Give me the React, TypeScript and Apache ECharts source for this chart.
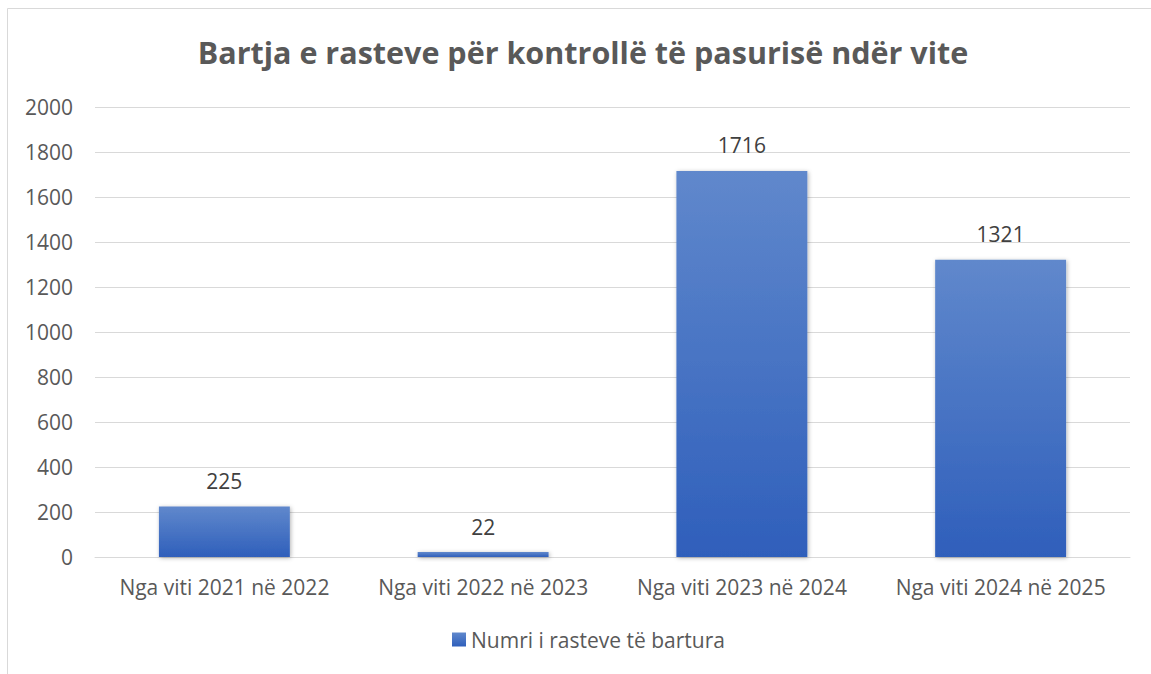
import React, { useEffect, useRef } from "react";
import * as echarts from "echarts";

const categories = [
  "Nga viti 2021 në 2022",
  "Nga viti 2022 në 2023",
  "Nga viti 2023 në 2024",
  "Nga viti 2024 në 2025",
];
const values = [225, 22, 1716, 1321];
const seriesName = "Numri i rasteve të bartura";
const titleText = "Bartja e rasteve për kontrollë të pasurisë ndër vite";

export default function App() {
  const ref = useRef<HTMLDivElement>(null);
  useEffect(() => {
    if (!ref.current) return;
    const chart = echarts.init(ref.current, undefined, { renderer: "svg" });
    const font = "'Open Sans', 'Noto Sans', sans-serif";
    chart.setOption({
      animation: false,
      backgroundColor: "#ffffff",
      textStyle: { fontFamily: font },
      title: {
        text: titleText,
        left: 578,
        textAlign: "center",
        top: 31,
        textStyle: { fontFamily: font, fontSize: 30.5, fontWeight: "bold", color: "#595959" },
      },
      graphic: [
        {
          type: "rect",
          shape: { x: 7.5, y: 8.5, width: 1160, height: 700 },
          style: { fill: "none", stroke: "#d9d9d9", lineWidth: 1 },
          silent: true,
        },
      ],
      legend: {
        bottom: 19,
        left: 447,
        itemWidth: 14,
        itemHeight: 14,
        icon: "rect",
        itemGap: 6,
        textStyle: { fontFamily: font, fontSize: 21, color: "#595959" },
        data: [seriesName],
      },
      grid: { left: 95, right: 21, top: 107, bottom: 117, containLabel: false },
      xAxis: {
        type: "category",
        data: categories,
        axisLine: { show: true, lineStyle: { color: "#d9d9d9", width: 1 } },
        axisTick: { show: false },
        axisLabel: { fontFamily: font, fontSize: 21, color: "#595959", margin: 19, interval: 0 },
      },
      yAxis: {
        type: "value",
        min: 0,
        max: 2000,
        interval: 200,
        axisLine: { show: false },
        axisTick: { show: false },
        splitLine: { lineStyle: { color: "#d9d9d9", width: 1 } },
        axisLabel: {
          fontFamily: font,
          fontSize: 21,
          color: "#595959",
          margin: 22,
          formatter: (v: number) => String(v),
        },
      },
      series: [
        {
          name: seriesName,
          type: "bar",
          data: values,
          barWidth: "50.6%",
          itemStyle: {
            color: new echarts.graphic.LinearGradient(0, 0, 0, 1, [
              { offset: 0, color: "#6088cc" },
              { offset: 1, color: "#2f5fbb" },
            ]),
            shadowBlur: 4,
            shadowColor: "rgba(0,0,0,0.3)",
            shadowOffsetX: 1,
            shadowOffsetY: 1,
          },
          label: {
            show: true,
            position: "top",
            distance: 15,
            fontFamily: font,
            fontSize: 21,
            color: "#404040",
          },
        },
      ],
    });
    return () => chart.dispose();
  }, []);
  return (
    <div
      ref={ref}
      style={{ position: "absolute", left: 0, top: 0, width: 1151, height: 674 }}
    />
  );
}
